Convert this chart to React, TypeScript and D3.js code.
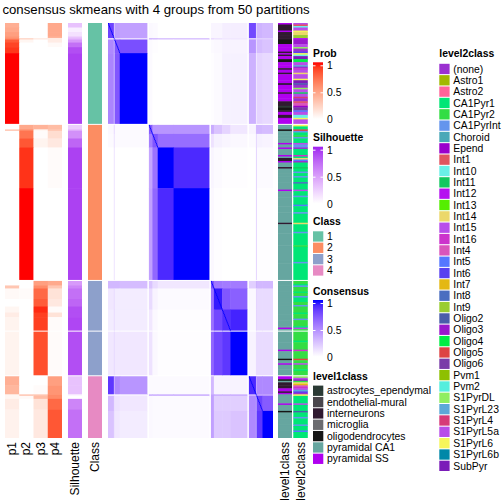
import React from "react";
import * as d3 from "d3";

// ---------------- data ----------------
const TITLE = "consensus skmeans with 4 groups from 50 partitions";
const probNames = ["p1", "p2", "p3", "p4"];
const classNames = ["1", "2", "3", "4"];
const classColors = ["#66C2A5", "#FC8D62", "#8DA0CB", "#E78AC3"];
const groupSizes = [67, 103, 62, 41];

const level1Names = ["astrocytes_ependymal", "endothelial-mural", "interneurons", "microglia", "oligodendrocytes", "pyramidal CA1", "pyramidal SS"];
const level1Colors = ["#2B3A35", "#4A464C", "#301A30", "#6C6C70", "#161616", "#66A6A0", "#B000F0"];

const level2Names = ["(none)", "Astro1", "Astro2", "CA1Pyr1", "CA1Pyr2", "CA1PyrInt", "Choroid", "Epend", "Int1", "Int10", "Int11", "Int12", "Int13", "Int14", "Int15", "Int16", "Int4", "Int5", "Int6", "Int7", "Int8", "Int9", "Oligo2", "Oligo3", "Oligo4", "Oligo5", "Oligo6", "Pvm1", "Pvm2", "S1PyrDL", "S1PyrL23", "S1PyrL4", "S1PyrL5a", "S1PyrL6", "S1PyrL6b", "SubPyr"];
const level2Colors = ["#9B30D0", "#A2B800", "#FF6399", "#00E676", "#33DD44", "#6495ED", "#4AA8B8", "#9A00CC", "#E05560", "#6AF0E8", "#13C860", "#B510F0", "#55EE00", "#EBD86A", "#B84DEA", "#CC33CC", "#D955BB", "#5577FF", "#5840F0", "#E4B813", "#4A6EC0", "#9ACD32", "#4A5DAA", "#9A18CC", "#00EE44", "#DD4444", "#7A3CA8", "#8EC000", "#55EEDD", "#90EE60", "#5DA8D8", "#D63A78", "#B84DE8", "#F5F55A", "#0088A8", "#7A1CB8"];

// sub-clusters (bands) of samples, in heatmap order
const bandNames = ["1a", "1o", "1b", "1c", "2a1", "2a2", "2b", "2c", "3a", "3b1", "3b2", "3c", "4a", "4o", "4b1", "4b2"];
const bandSizes = [10, 1, 9, 47, 6, 9, 27, 61, 5, 14, 14, 29, 12, 1, 10, 18];
const rowSlices = [[0, 1, 2, 3], [4, 5, 6, 7], [8, 9, 10], [11], [12, 13, 14, 15]];
const colSlices = [[0, 1, 2, 3], [4, 5, 6, 7], [8, 9, 10, 11], [12, 13, 14, 15]];

// consensus between row band (row) and column band (col)
const consensus = [
  [0.80, 0.12, 0.42, 0.40, 0.03, 0.02, 0.00, 0.00, 0.04, 0.04, 0.07, 0.07, 0.78, 0.10, 0.32, 0.30],
  [0.15, 1.00, 0.18, 0.15, 0.30, 0.28, 0.25, 0.25, 0.15, 0.12, 0.10, 0.10, 0.20, 0.10, 0.20, 0.20],
  [0.50, 0.10, 0.72, 0.75, 0.02, 0.01, 0.00, 0.00, 0.02, 0.03, 0.05, 0.05, 0.45, 0.05, 0.28, 0.25],
  [0.52, 0.03, 0.72, 1.00, 0.02, 0.00, 0.00, 0.00, 0.01, 0.02, 0.06, 0.06, 0.33, 0.04, 0.18, 0.16],
  [0.03, 0.25, 0.02, 0.02, 0.70, 0.45, 0.45, 0.45, 0.35, 0.25, 0.18, 0.10, 0.05, 0.30, 0.30, 0.28],
  [0.02, 0.20, 0.02, 0.02, 0.55, 0.72, 0.62, 0.62, 0.12, 0.06, 0.04, 0.03, 0.02, 0.25, 0.06, 0.05],
  [0.00, 0.20, 0.00, 0.00, 0.38, 0.60, 1.00, 0.90, 0.04, 0.02, 0.01, 0.01, 0.00, 0.30, 0.02, 0.02],
  [0.00, 0.20, 0.00, 0.00, 0.40, 0.65, 0.90, 1.00, 0.03, 0.01, 0.00, 0.00, 0.00, 0.30, 0.01, 0.01],
  [0.30, 0.30, 0.30, 0.28, 0.25, 0.15, 0.10, 0.10, 0.75, 0.58, 0.56, 0.56, 0.20, 0.35, 0.30, 0.30],
  [0.10, 0.20, 0.08, 0.08, 0.15, 0.05, 0.02, 0.02, 0.60, 0.95, 0.72, 0.68, 0.03, 0.20, 0.15, 0.15],
  [0.08, 0.20, 0.08, 0.08, 0.10, 0.03, 0.01, 0.01, 0.60, 0.78, 0.88, 0.92, 0.03, 0.20, 0.15, 0.15],
  [0.10, 0.20, 0.10, 0.10, 0.12, 0.03, 0.01, 0.01, 0.65, 0.78, 0.85, 1.00, 0.05, 0.15, 0.15, 0.15],
  [0.85, 0.20, 0.50, 0.45, 0.02, 0.02, 0.02, 0.02, 0.30, 0.05, 0.05, 0.05, 0.90, 0.30, 0.50, 0.50],
  [0.05, 0.05, 0.05, 0.05, 0.35, 0.35, 0.35, 0.35, 0.40, 0.35, 0.35, 0.35, 0.30, 1.00, 0.40, 0.40],
  [0.30, 0.15, 0.12, 0.10, 0.03, 0.02, 0.02, 0.02, 0.40, 0.20, 0.20, 0.20, 0.50, 0.20, 0.80, 0.70],
  [0.25, 0.15, 0.10, 0.08, 0.03, 0.02, 0.02, 0.02, 0.40, 0.22, 0.22, 0.25, 0.50, 0.20, 0.85, 1.00],
];

// runs of samples: [count, p1, p2, p3, p4]
const probRuns: number[][] = [
  // group 1
  [3, 0.42, 0, 0, 0.45], [3, 0.45, 0, 0, 0.45], [3, 0.5, 0, 0, 0.45], [1, 0.55, 0, 0, 0.4],
  [1, 0.6, 0.2, 0.1, 0.1], [2, 0.8, 0.05, 0, 0.1], [3, 0.88, 0, 0, 0.03], [4, 0.92, 0, 0, 0], [47, 1, 0, 0, 0],
  // group 2
  [3, 0, 0.45, 0.4, 0.35], [1, 0.3, 0.6, 0.05, 0.3], [5, 0, 0.7, 0.02, 0.18], [6, 0, 0.82, 0.06, 0.12],
  [27, 0, 0.93, 0, 0.02], [61, 0, 1, 0, 0],
  // group 3
  [3, 0, 0, 0.5, 0.45], [2, 0.3, 0, 0.6, 0.3], [7, 0.03, 0.02, 0.75, 0.15], [5, 0, 0, 0.8, 0.12],
  [4, 0.05, 0, 0.95, 0.02], [3, 0.1, 0, 0.9, 0.15], [9, 0.06, 0, 0.9, 0.02],
  [29, 0.06, 0, 0.85, 0.02],
  // group 4
  [6, 0.42, 0, 0, 0.5], [6, 0.38, 0, 0.02, 0.55], [1, 0.05, 0.3, 0.3, 0.6], [2, 0.05, 0.03, 0.35, 0.6],
  [7, 0.1, 0, 0.15, 0.75], [19, 0.07, 0, 0.12, 0.82],
];
// runs of samples: [count, silhouette]
const silhouetteRuns: number[][] = [
  [3, 0.3], [3, 0.08], [3, 0.15], [1, 0.3], [1, 0.35], [2, 0.5], [3, 0.7], [4, 0.85], [47, 0.9],
  [3, 0.25], [1, 0.4], [5, 0.55], [6, 0.75], [27, 0.9], [61, 0.9],
  [3, 0.5], [2, 0.6], [7, 0.7], [5, 0.75], [4, 0.85], [3, 0.85], [9, 0.88],
  [29, 0.85],
  [6, 0.3], [6, 0.3], [1, 0.05], [2, 0], [7, 0.6], [19, 0.7],
];
// runs of samples: [count, level1 index, level2 index]
const levelRuns: number[][] = [
  // group 1
  [1, 6, 32], [1, 2, 8], [1, 2, 9], [2, 2, 14], [1, 6, 33], [2, 2, 13], [2, 2, 21], [1, 2, 11], [3, 4, 23],
  [2, 6, 32], [1, 6, 29], [2, 6, 0], [1, 2, 18], [1, 6, 33], [1, 2, 9], [2, 6, 35], [2, 4, 24],
  [2, 6, 32], [1, 6, 30], [1, 6, 0], [1, 2, 15], [2, 6, 32], [1, 2, 13], [3, 6, 32], [1, 6, 33], [2, 6, 35], [1, 4, 22],
  [2, 6, 0], [1, 6, 29], [2, 6, 32], [1, 2, 10], [2, 6, 32], [1, 6, 31], [2, 6, 0], [1, 2, 8],
  [2, 2, 16], [1, 0, 7], [2, 4, 26], [1, 2, 17],
  [2, 6, 32], [2, 2, 9], [1, 6, 33], [3, 6, 32],
  // group 2
  [1, 5, 33], [2, 5, 3], [1, 4, 25], [1, 5, 5], [2, 5, 3], [1, 5, 4], [1, 5, 5], [3, 5, 3], [1, 6, 32], [2, 5, 5],
  [1, 6, 0], [4, 5, 3], [1, 6, 15], [1, 5, 3], [1, 2, 13], [1, 2, 17], [1, 6, 0], [3, 5, 3], [1, 2, 10], [2, 5, 3],
  [1, 5, 5], [2, 5, 3], [1, 5, 5], [3, 5, 3], [1, 5, 20], [4, 5, 3], [1, 6, 32], [3, 5, 3], [1, 5, 5], [5, 5, 3],
  [1, 5, 17], [4, 5, 3], [1, 5, 5], [6, 5, 3], [1, 2, 13], [5, 5, 3], [1, 5, 5], [8, 5, 3], [1, 5, 4], [10, 5, 3],
  [1, 5, 5], [11, 5, 3],
  // group 3 (upper)
  [2, 5, 4], [1, 5, 3], [1, 5, 5], [3, 5, 4], [1, 5, 3], [2, 5, 4], [1, 5, 5], [3, 5, 3], [2, 5, 4], [1, 5, 5],
  [4, 5, 4], [1, 5, 3], [3, 5, 4], [1, 5, 5], [4, 5, 4], [1, 5, 3], [1, 6, 32], [1, 5, 4],
  // group 3 (lower)
  [6, 5, 4], [1, 5, 3], [5, 5, 4], [1, 6, 15], [5, 5, 4], [1, 4, 25], [2, 5, 4], [1, 6, 32], [3, 5, 4], [1, 5, 3], [3, 5, 4],
  // group 4
  [1, 6, 29], [1, 6, 32], [1, 4, 23], [1, 5, 4], [1, 2, 13], [1, 2, 19], [1, 2, 16], [1, 2, 15], [1, 6, 32], [1, 6, 30],
  [1, 2, 18], [1, 6, 0], [1, 5, 33], [5, 5, 3], [1, 6, 32], [4, 5, 3], [1, 4, 22], [3, 5, 3], [1, 5, 5], [4, 5, 3],
  [1, 5, 5], [3, 5, 3], [1, 5, 17], [4, 5, 3],
];

const legendTicks = [1, 0.5, 0];

// ---------------- layout ----------------
const FONT = "'Liberation Sans', Arial, Helvetica, sans-serif";
const HM_TOP = 23, HM_BOTTOM = 438, HM_LEFT = 108, HM_RIGHT = 273;
const ROW_GAP = 1, COL_GAP = 1.5;
const probX = [5, 19.25, 33.5, 47.75], probW = 14.25;
const silX = 68, classX = 88, annW = 14;
const l1X = 278, l1W = 14, l2X = 293.3, l2W = 14.5;

const probColor = d3.scaleLinear<string>().domain([0, 1]).range(["#FFFFFF", "#FF0000"]).interpolate(d3.interpolateLab);
const silColor = d3.scaleLinear<string>().domain([0, 1]).range(["#FFFFFF", "#A020F0"]).interpolate(d3.interpolateLab);
const consColor = d3.scaleLinear<string>().domain([0, 1]).range(["#FFFFFF", "#0000FF"]).interpolate(d3.interpolateLab);

function makeSliceScales(slices: number[][], start: number, end: number, gap: number) {
  const N = d3.sum(bandSizes);
  const pitch = (end - start - (slices.length - 1) * gap) / N;
  const starts: number[] = [];
  let acc = 0;
  const scales = slices.map((s, k) => {
    const n = d3.sum(s, (b) => bandSizes[b]);
    starts.push(acc);
    const p0 = start + acc * pitch + k * gap;
    const sc = d3.scaleLinear().domain([acc, acc + n]).range([p0, p0 + n * pitch]);
    acc += n;
    return sc;
  });
  const sliceOf = (i: number) => d3.bisectRight(starts, i) - 1;
  const ends = slices.map((s, k) => starts[k] + d3.sum(s, (b) => bandSizes[b]));
  return { scales, sliceOf, ends, pitch };
}

const bandStarts = bandSizes.map((_, i) => d3.sum(bandSizes.slice(0, i)));

export default function App() {
  const rows = makeSliceScales(rowSlices, HM_TOP, HM_BOTTOM, ROW_GAP);
  const cols = makeSliceScales(colSlices, HM_LEFT, HM_RIGHT, COL_GAP);

  const rowSpan = (a: number, b: number) => {
    const k = rows.sliceOf(a);
    const sc = rows.scales[k];
    const y0 = sc(a);
    let y1 = sc(b);
    if (b < rows.ends[k]) y1 += 0.5;
    return [y0, y1 - y0];
  };
  const colSpan = (a: number, b: number) => {
    const k = cols.sliceOf(a);
    const sc = cols.scales[k];
    const x0 = sc(a);
    let x1 = sc(b);
    if (b < cols.ends[k]) x1 += 0.5;
    return [x0, x1 - x0];
  };

  // heatmap band cells
  const cells: JSX.Element[] = [];
  bandSizes.forEach((rs, r) => {
    const [y, h] = rowSpan(bandStarts[r], bandStarts[r] + rs);
    bandSizes.forEach((cs, c) => {
      const [x, w] = colSpan(bandStarts[c], bandStarts[c] + cs);
      cells.push(<rect key={`c${r}_${c}`} x={x} y={y} width={w} height={h} fill={consColor(consensus[r][c])} />);
    });
  });
  // diagonal (each sample with itself)
  bandSizes.forEach((n, b) => {
    if (consensus[b][b] >= 0.999) return;
    for (let i = bandStarts[b]; i < bandStarts[b] + n; i++) {
      const kr = rows.sliceOf(i), kc = cols.sliceOf(i);
      cells.push(
        <rect key={`d${i}`} x={cols.scales[kc](i)} y={rows.scales[kr](i)} width={cols.pitch + 0.3} height={rows.pitch} fill={consColor(1)} />
      );
    }
  });

  // annotation runs
  const annos: JSX.Element[] = [];
  let acc = 0;
  probRuns.forEach((run, j) => {
    const [y, h] = rowSpan(acc, acc + run[0]);
    for (let p = 0; p < 4; p++) {
      annos.push(<rect key={`p${j}_${p}`} x={probX[p]} y={y} width={probW + (p < 3 ? 0.3 : 0)} height={h} fill={probColor(run[p + 1])} />);
    }
    acc += run[0];
  });
  acc = 0;
  silhouetteRuns.forEach((run, j) => {
    const [y, h] = rowSpan(acc, acc + run[0]);
    annos.push(<rect key={`s${j}`} x={silX} y={y} width={annW} height={h} fill={silColor(run[1])} />);
    acc += run[0];
  });
  acc = 0;
  groupSizes.forEach((n, g) => {
    const end = acc + n;
    let a = acc;
    while (a < end) {
      const k = rows.sliceOf(a);
      const b = Math.min(end, rows.ends[k]);
      const [y, h] = rowSpan(a, b);
      annos.push(<rect key={`k${g}_${a}`} x={classX} y={y} width={annW} height={h} fill={classColors[g]} />);
      a = b;
    }
    acc = end;
  });
  acc = 0;
  levelRuns.forEach((run, j) => {
    const [y, h] = rowSpan(acc, acc + run[0]);
    annos.push(<rect key={`l1${j}`} x={l1X} y={y} width={l1W} height={h} fill={level1Colors[run[1]]} />);
    annos.push(<rect key={`l2${j}`} x={l2X} y={y} width={l2W} height={h} fill={level2Colors[run[2]]} />);
    acc += run[0];
  });

  const bottomLabels = [
    ...probNames.map((t, i) => ({ t, cx: probX[i] + probW / 2 })),
    { t: "Silhouette", cx: silX + annW / 2 },
    { t: "Class", cx: classX + annW / 2 },
    { t: "level1class", cx: l1X + l1W / 2 },
    { t: "level2class", cx: l2X + l2W / 2 },
  ];

  const colorBar = (id: string, title: string, titleY: number, top: number, scale: (v: number) => string) => {
    const x = 313, w = 10, h = 56.7;
    const stops = d3.range(0, 1.0001, 0.1);
    const labelY = (v: number) => top + 3.5 + (1 - v) * 54;
    return (
      <g key={id}>
        <defs>
          <linearGradient id={id} x1="0" y1="1" x2="0" y2="0">
            {stops.map((s) => (
              <stop key={s} offset={s} stopColor={scale(s)} />
            ))}
          </linearGradient>
        </defs>
        <text x={x} y={titleY} fontSize={10.4} fontWeight="bold" fontFamily={FONT}>{title}</text>
        <rect x={x} y={top} width={w} height={h} fill={`url(#${id})`} />
        {legendTicks.map((v) => (
          <g key={v}>
            <line x1={x} x2={x + 2.5} y1={labelY(v)} y2={labelY(v)} stroke="#FFFFFF" strokeWidth={1} />
            <line x1={x + w - 2.5} x2={x + w} y1={labelY(v)} y2={labelY(v)} stroke="#FFFFFF" strokeWidth={1} />
            <text x={x + 14} y={labelY(v)} fontSize={10.4} fontFamily={FONT} dominantBaseline="central">{String(v)}</text>
          </g>
        ))}
      </g>
    );
  };

  const discrete = (id: string, title: string, x: number, titleY: number, top: number, names: string[], colors: string[]) => (
    <g key={id}>
      <text x={x} y={titleY} fontSize={10.4} fontWeight="bold" fontFamily={FONT}>{title}</text>
      {names.map((n, i) => {
        const y = top + i * 11.34;
        return (
          <g key={n}>
            <rect x={x} y={y} width={10.3} height={10.3} fill={colors[i]} />
            <text x={x + 14} y={y + 5.3} fontSize={10.4} fontFamily={FONT} dominantBaseline="central">{n}</text>
          </g>
        );
      })}
    </g>
  );

  return (
    <svg width={504} height={504} style={{ position: "fixed", left: 0, top: 0, background: "#FFFFFF" }}>
      <rect x={0} y={0} width={504} height={504} fill="#FFFFFF" />
      <text x={156} y={14} fontSize={13.2} fontFamily={FONT} textAnchor="middle">{TITLE}</text>
      <g>{annos}</g>
      <g>{cells}</g>
      {bottomLabels.map((l) => (
        <text key={l.t} transform={`translate(${l.cx},442) rotate(-90)`} fontSize={12} fontFamily={FONT} textAnchor="end" dominantBaseline="central">{l.t}</text>
      ))}
      {colorBar("gProb", "Prob", 56.7, 62.3, probColor)}
      {colorBar("gSil", "Silhouette", 140.7, 146.7, silColor)}
      {discrete("lClass", "Class", 313, 225, 231.3, classNames, classColors)}
      {colorBar("gCons", "Consensus", 295, 300, consColor)}
      {discrete("lL1", "level1class", 313, 379.5, 385.6, level1Names, level1Colors)}
      {discrete("lL2", "level2class", 439.3, 56.7, 63.8, level2Names, level2Colors)}
    </svg>
  );
}
